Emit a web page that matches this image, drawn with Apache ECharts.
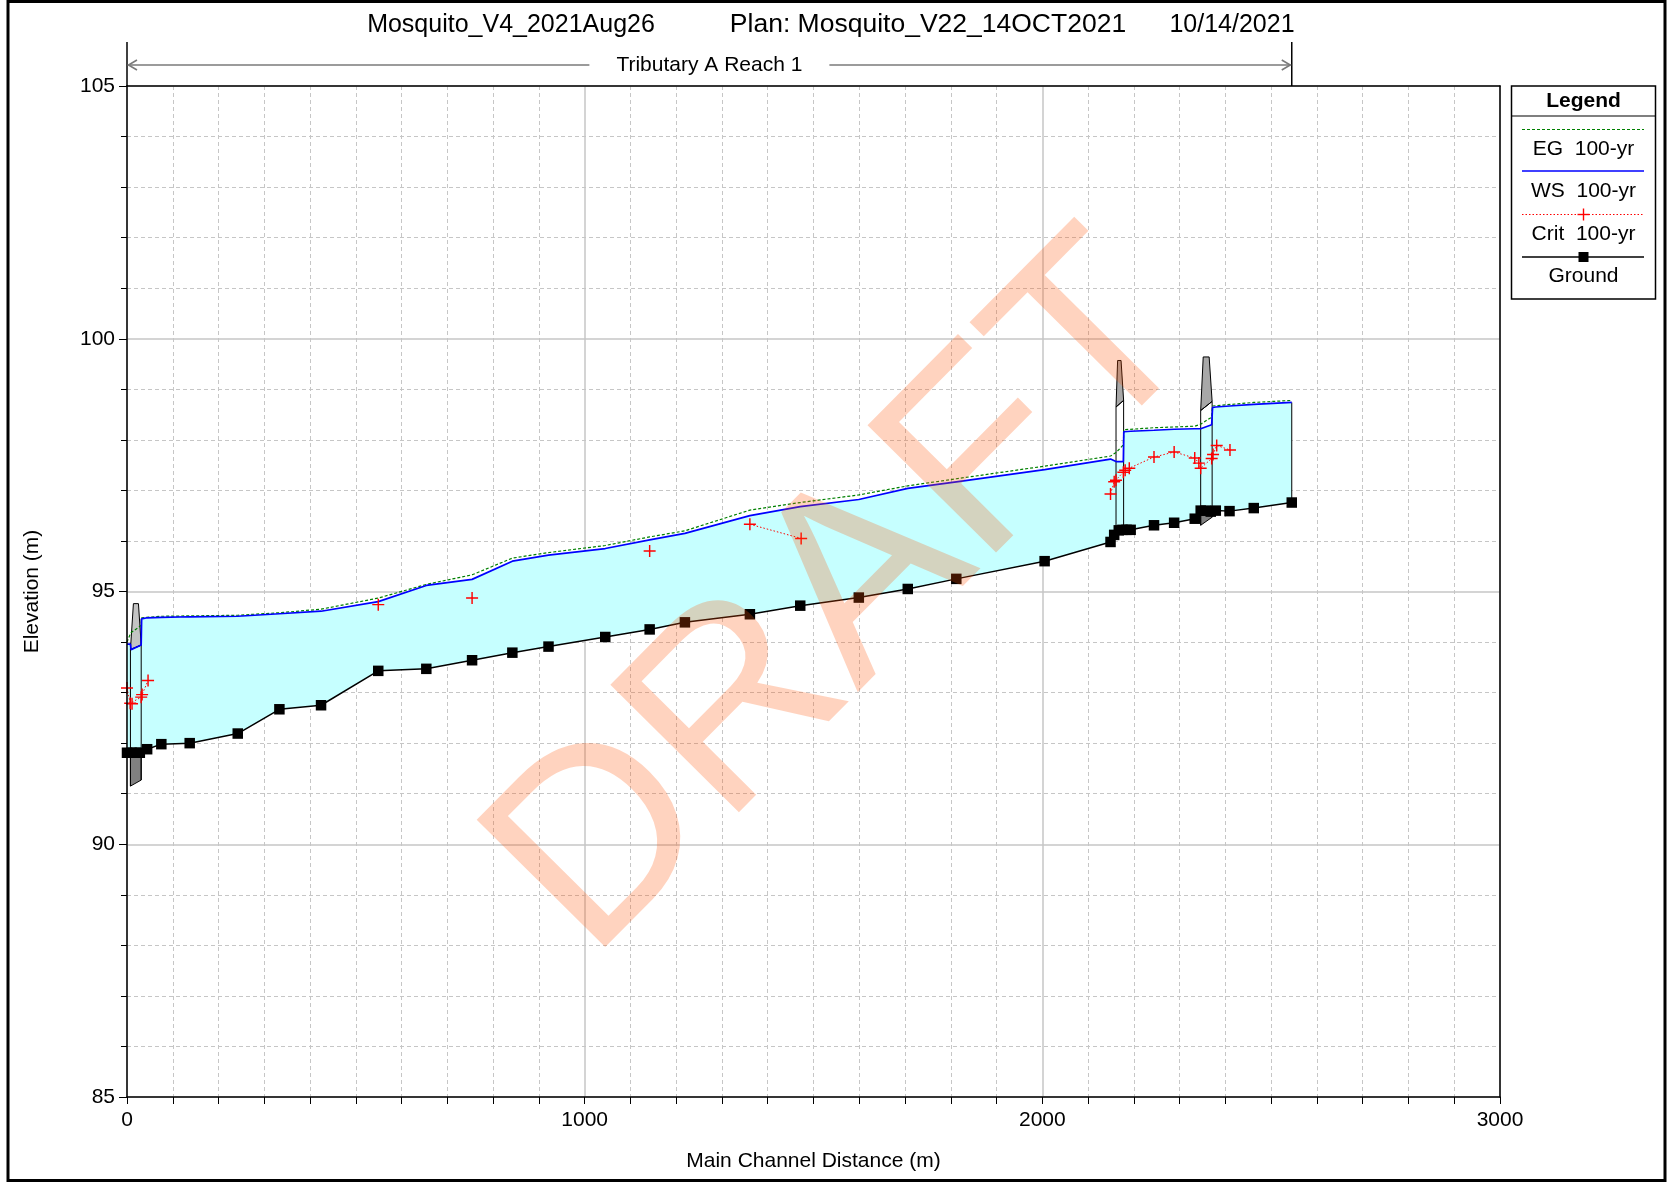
<!DOCTYPE html>
<html>
<head>
<meta charset="utf-8">
<title>Tributary A Reach 1 - Profile</title>
<script src="https://cdn.jsdelivr.net/npm/echarts@6/dist/echarts.min.js"></script>
<style>
  html, body { margin: 0; padding: 0; background: #fff; }
  #chart { width: 1671px; height: 1183px; }
</style>
</head>
<body>
<div id="chart"></div>
<script>
// ---- Profile data (main channel distance in m, elevation in m) ----
const groundDist = [0, 10, 19, 28, 44, 75, 137, 242, 333, 424, 549, 654, 754, 842, 921, 1045, 1142, 1219, 1361, 1471, 1599, 1706, 1812, 2005, 2149, 2157, 2167, 2175, 2184, 2193, 2244, 2288, 2333, 2346, 2357, 2368, 2379, 2409, 2462, 2545];
const groundElev = [91.81, 91.81, 91.81, 91.81, 91.88, 91.98, 92.00, 92.19, 92.67, 92.75, 93.43, 93.47, 93.64, 93.79, 93.91, 94.10, 94.25, 94.39, 94.55, 94.72, 94.88, 95.05, 95.25, 95.60, 95.98, 96.12, 96.21, 96.22, 96.22, 96.22, 96.31, 96.36, 96.44, 96.60, 96.60, 96.58, 96.60, 96.59, 96.65, 96.76];

const wsDist = [0, 7.5, 9, 31, 32, 44, 75, 137, 242, 333, 424, 549, 654, 754, 842, 921, 1045, 1142, 1219, 1361, 1471, 1599, 1706, 1812, 2005, 2149, 2161, 2177, 2178, 2193, 2244, 2288, 2333, 2346, 2370, 2372, 2379, 2409, 2462, 2545];
const wsElev = [93.96, 93.96, 93.85, 93.94, 94.46, 94.48, 94.49, 94.50, 94.51, 94.56, 94.61, 94.80, 95.12, 95.24, 95.60, 95.72, 95.85, 96.02, 96.15, 96.50, 96.68, 96.82, 97.04, 97.17, 97.41, 97.62, 97.57, 97.57, 98.16, 98.17, 98.19, 98.21, 98.22, 98.22, 98.30, 98.64, 98.65, 98.67, 98.70, 98.74];

const egDist = [0, 8, 31, 32, 75, 242, 333, 424, 549, 654, 754, 842, 921, 1045, 1142, 1219, 1361, 1471, 1599, 1706, 1812, 2005, 2149, 2161, 2177, 2178, 2244, 2333, 2346, 2370, 2372, 2462, 2545];
const egElev = [94.00, 94.18, 94.33, 94.48, 94.51, 94.53, 94.58, 94.65, 94.87, 95.14, 95.33, 95.66, 95.77, 95.91, 96.08, 96.20, 96.61, 96.76, 96.91, 97.09, 97.23, 97.48, 97.68, 97.75, 97.90, 98.20, 98.24, 98.27, 98.31, 98.45, 98.67, 98.74, 98.78];

// critical depth elevations; null marks a gap where none was computed
const critDist = [0, 7, 11, 31, 33, 46, null, 549, null, 754, null, 1142, null, 1361, 1473, null, 2149, 2157, 2161, 2177, 2181, 2190, 2244, 2288, 2333, 2342, 2346, 2370, 2373, 2381, 2410];
const critElev = [93.09, 92.79, 92.78, 92.91, 92.96, 93.24, null, 94.74, null, 94.87, null, 95.80, null, 96.33, 96.05, null, 96.93, 97.17, 97.20, 97.36, 97.40, 97.44, 97.66, 97.76, 97.64, 97.54, 97.44, 97.63, 97.71, 97.89, 97.80];

// ---- Bridges (downstream face / upstream face) ----
const bridgeFaceLeft = [7.5, 2161, 2346];
const bridgeFaceRight = [31, 2177.6, 2371];
const bridgeDeckLeft = [14, 2164.5, 2351.5];
const bridgeDeckRight = [25, 2172, 2364.5];
const bridgeDeckTop = [94.76, 99.57, 99.64];
const bridgeLowChordLeft = [93.85, 98.65, 98.58];
const bridgeLowChordRight = [93.94, 98.78, 98.76];
const bridgeFaceTopLeft = [93.98, 98.65, 98.58];
const bridgeFaceTopRight = [94.46, 98.78, 98.76];
const bridgeGroundLeft = [91.81, 96.12, 96.60];
const bridgeGroundRight = [91.81, 96.22, 96.58];
const bridgeFootLeft = [91.15, 96.02, 96.31];
const bridgeFootRight = [91.27, 96.30, 96.47];
const bridgeDeckFill = ['#c4c4c4', '#a8a8a8', '#a8a8a8'];

// ---- Axes / annotation ----
const xRange = [0, 3000];
const yRange = [85, 105];
const reachStart = 0;
const reachEnd = 2545;
const reachName = 'Tributary A Reach 1';
const titleParts = ['Mosquito_V4_2021Aug26', 'Plan: Mosquito_V22_14OCT2021', '10/14/2021'];
const legendLabels = ['EG  100-yr', 'WS  100-yr', 'Crit  100-yr', 'Ground'];

const FONT = '"Liberation Sans", Arial, Helvetica, sans-serif';
const GRID_COLOR = '#c6c6c6';

const pairs = (xs, ys) => xs.map((x, i) => (x == null ? ['-', '-'] : [x, ys[i]]));

const chart = echarts.init(document.getElementById('chart'), null, { renderer: 'canvas' });

const plusPath = 'path://M4.4,0H5.6V4.4H10V5.6H5.6V10H4.4V5.6H0V4.4H4.4Z';

const option = {
  animation: false,
  backgroundColor: '#ffffff',
  grid: { left: 127, top: 86, width: 1373, height: 1011, show: false },
  xAxis: [
    { // labelled distance axis
      type: 'value', min: xRange[0], max: xRange[1], interval: 1000, position: 'bottom', z: 10,
      name: 'Main Channel Distance (m)', nameLocation: 'middle', nameGap: 54,
      nameTextStyle: { fontSize: 21, color: '#000', fontFamily: FONT },
      axisLine: { onZero: false, lineStyle: { color: '#000', width: 1.5 } },
      axisTick: { show: true, length: 7, lineStyle: { color: '#000', width: 1 } },
      minorTick: { show: true, splitNumber: 10, length: 7, lineStyle: { color: '#000', width: 1 } },
      axisLabel: { fontSize: 21, color: '#000', margin: 13, fontFamily: FONT, formatter: v => String(v) },
      splitLine: { show: false }
    },
    { // grid lines only
      type: 'value', min: xRange[0], max: xRange[1], interval: 1000, position: 'bottom', z: 0,
      axisLine: { show: false }, axisTick: { show: false }, axisLabel: { show: false },
      minorTick: { show: false, splitNumber: 10 },
      splitLine: { show: true, lineStyle: { color: GRID_COLOR, width: 1.5 } },
      minorSplitLine: { show: true, lineStyle: { color: GRID_COLOR, width: 1, type: [4, 3] } }
    },
    { // top frame
      type: 'value', min: xRange[0], max: xRange[1], position: 'top', z: 10,
      axisLine: { onZero: false, lineStyle: { color: '#000', width: 1.5 } },
      axisTick: { show: false }, axisLabel: { show: false }, splitLine: { show: false }
    }
  ],
  yAxis: [
    { // labelled elevation axis
      type: 'value', min: yRange[0], max: yRange[1], interval: 5, position: 'left', z: 10,
      name: 'Elevation (m)', nameLocation: 'middle', nameGap: 84, nameRotate: 90,
      nameTextStyle: { fontSize: 21, color: '#000', fontFamily: FONT },
      axisLine: { onZero: false, lineStyle: { color: '#000', width: 1.5 } },
      axisTick: { show: true, length: 8, lineStyle: { color: '#000', width: 1 } },
      minorTick: { show: true, splitNumber: 5, length: 6, lineStyle: { color: '#000', width: 1 } },
      axisLabel: { fontSize: 21, color: '#000', margin: 12, fontFamily: FONT, formatter: v => String(v) },
      splitLine: { show: false }
    },
    { // grid lines only
      type: 'value', min: yRange[0], max: yRange[1], interval: 5, position: 'left', z: 0,
      axisLine: { show: false }, axisTick: { show: false }, axisLabel: { show: false },
      minorTick: { show: false, splitNumber: 5 },
      splitLine: { show: true, lineStyle: { color: GRID_COLOR, width: 1.5 } },
      minorSplitLine: { show: true, lineStyle: { color: GRID_COLOR, width: 1, type: [4, 3] } }
    },
    { // right frame
      type: 'value', min: yRange[0], max: yRange[1], position: 'right', z: 10,
      axisLine: { onZero: false, lineStyle: { color: '#000', width: 1.5 } },
      axisTick: { show: false }, axisLabel: { show: false }, splitLine: { show: false }
    }
  ],
  series: [
    { // flow area between water surface and channel invert
      type: 'custom', name: 'flow', z: 1, silent: true,
      data: [[wsDist[0], wsElev[0]]],
      renderItem: (params, api) => {
        const top = wsDist.map((d, i) => api.coord([d, wsElev[i]]));
        const bottom = groundDist.map((d, i) => api.coord([d, groundElev[i]])).reverse();
        const endTop = api.coord([wsDist[wsDist.length - 1], wsElev[wsElev.length - 1]]);
        const endBot = api.coord([groundDist[groundDist.length - 1], groundElev[groundElev.length - 1]]);
        return {
          type: 'group',
          children: [
            { type: 'polygon', shape: { points: top.concat(bottom) }, style: { fill: '#c6ffff', stroke: null } },
            { type: 'line', shape: { x1: endTop[0], y1: endTop[1], x2: endBot[0], y2: endBot[1] },
              style: { stroke: '#000', lineWidth: 1 } }
          ]
        };
      }
    },
    { // bridge decks and faces
      type: 'custom', name: 'bridges', z: 3, silent: true,
      data: bridgeFaceLeft.map((x, i) => [x, bridgeDeckTop[i]]),
      renderItem: (params, api) => {
        const i = params.dataIndex;
        const c = (x, y) => api.coord([x, y]);
        const L = bridgeFaceLeft[i], R = bridgeFaceRight[i];
        const ln = (a, b) => ({ type: 'line', shape: { x1: a[0], y1: a[1], x2: b[0], y2: b[1] },
                                style: { stroke: '#000', lineWidth: 1 } });
        return {
          type: 'group',
          children: [
            { type: 'polygon',
              shape: { points: [c(L, bridgeGroundLeft[i]), c(R, bridgeGroundRight[i]), c(R, bridgeFootRight[i]), c(L, bridgeFootLeft[i])] },
              style: { fill: '#808080', stroke: '#000', lineWidth: 1 } },
            { type: 'polygon',
              shape: { points: [c(bridgeDeckLeft[i], bridgeDeckTop[i]), c(bridgeDeckRight[i], bridgeDeckTop[i]),
                                c(R, bridgeLowChordRight[i]), c(L, bridgeLowChordLeft[i])] },
              style: { fill: bridgeDeckFill[i], stroke: '#000', lineWidth: 1 } },
            ln(c(L, bridgeFootLeft[i]), c(L, bridgeFaceTopLeft[i])),
            ln(c(R, bridgeFootRight[i]), c(R, bridgeFaceTopRight[i])),
            ln(c(L, bridgeLowChordLeft[i]), c(R, bridgeLowChordRight[i]))
          ]
        };
      }
    },
    {
      type: 'line', name: 'EG  100-yr', z: 4, silent: true,
      data: pairs(egDist, egElev), showSymbol: false,
      lineStyle: { color: '#008000', width: 1.2, type: [3, 2] }
    },
    {
      type: 'line', name: 'WS  100-yr', z: 5, silent: true,
      data: pairs(wsDist, wsElev), showSymbol: false,
      lineStyle: { color: '#0000ff', width: 1.7 }
    },
    {
      type: 'line', name: 'Crit  100-yr', z: 6, silent: true,
      data: pairs(critDist, critElev), connectNulls: false,
      showSymbol: true, showAllSymbol: true, symbol: plusPath, symbolSize: 12,
      itemStyle: { color: '#ff0000' },
      lineStyle: { color: '#ff0000', width: 1, type: [1.5, 2] }
    },
    {
      type: 'line', name: 'Ground', z: 7, silent: true,
      data: pairs(groundDist, groundElev),
      showSymbol: true, showAllSymbol: true, symbol: 'rect', symbolSize: 10.5,
      itemStyle: { color: '#000' },
      lineStyle: { color: '#000', width: 1.5 }
    }
  ]
};

chart.setOption(option);

// ---- Decorations: frame, title, reach marker, legend, watermark ----
const px0 = chart.convertToPixel({ xAxisIndex: 0 }, reachStart);
const px1 = chart.convertToPixel({ xAxisIndex: 0 }, reachEnd);
const plotTop = chart.convertToPixel({ yAxisIndex: 0 }, yRange[1]);
const reachY = 65;
const reachMid = (px0 + px1) / 2;
const reachGap = 120;
const grayArrow = { stroke: '#7a7a7a', lineWidth: 1.6 };

const txt = (x, y, s, size, extra) => ({
  type: 'text', x: x, y: y, silent: true,
  style: Object.assign({ text: s, fill: '#000', font: size + 'px ' + FONT, align: 'center', verticalAlign: 'middle' }, extra || {})
});
const seg = (x1, y1, x2, y2, style) => ({
  type: 'line', silent: true, shape: { x1, y1, x2, y2 }, style: Object.assign({ stroke: '#000', lineWidth: 1 }, style || {})
});

const legX0 = 1511.5, legX1 = 1655.5, legMid = (legX0 + legX1) / 2;
const legLineX0 = 1522, legLineX1 = 1644;

const graphics = [
  // outer frame
  { type: 'rect', silent: true, shape: { x: 8, y: 1.5, width: 1657, height: 1179 }, style: { fill: 'none', stroke: '#000', lineWidth: 3 } },
  // title
  txt(511, 25, titleParts[0], 25),
  txt(928, 25, titleParts[1], 26.5),
  txt(1232, 25, titleParts[2], 25),
  // reach extent marker
  seg(px0, 42, px0, plotTop, { lineWidth: 1.5 }),
  seg(px1, 42, px1, plotTop, { lineWidth: 1.5 }),
  seg(px0 + 1, reachY, reachMid - reachGap, reachY, grayArrow),
  seg(reachMid + reachGap, reachY, px1 - 1, reachY, grayArrow),
  { type: 'polyline', silent: true, shape: { points: [[px0 + 10, reachY - 5], [px0 + 1.5, reachY], [px0 + 10, reachY + 5]] }, style: Object.assign({ fill: 'none' }, grayArrow) },
  { type: 'polyline', silent: true, shape: { points: [[px1 - 10, reachY - 5], [px1 - 1.5, reachY], [px1 - 10, reachY + 5]] }, style: Object.assign({ fill: 'none' }, grayArrow) },
  txt(reachMid, reachY, reachName, 21),
  // legend box
  { type: 'rect', silent: true, shape: { x: legX0, y: 86, width: legX1 - legX0, height: 213 }, style: { fill: '#fff', stroke: '#000', lineWidth: 1.5 } },
  seg(legX0, 116, legX1, 116, { lineWidth: 1.2 }),
  txt(legMid, 101, 'Legend', 21, { font: 'bold 21px ' + FONT }),
  seg(legLineX0, 129.5, legLineX1, 129.5, { stroke: '#008000', lineWidth: 1.2, lineDash: [3, 2] }),
  txt(legMid, 149, legendLabels[0], 21),
  seg(legLineX0, 171, legLineX1, 171, { stroke: '#0000ff', lineWidth: 1.7 }),
  txt(legMid, 191, legendLabels[1], 21),
  seg(legLineX0, 214.5, legLineX1, 214.5, { stroke: '#ff0000', lineWidth: 1, lineDash: [1.5, 2] }),
  seg(legMid - 6, 214.5, legMid + 6, 214.5, { stroke: '#ff0000', lineWidth: 1.4 }),
  seg(legMid, 208.5, legMid, 220.5, { stroke: '#ff0000', lineWidth: 1.4 }),
  txt(legMid, 234, legendLabels[2], 21),
  seg(legLineX0, 257, legLineX1, 257, { stroke: '#000', lineWidth: 1.5 }),
  { type: 'rect', silent: true, shape: { x: legMid - 5, y: 252, width: 10, height: 10 }, style: { fill: '#000' } },
  txt(legMid, 276.5, legendLabels[3], 21),
  // DRAFT watermark
  { type: 'text', silent: true, x: 847, y: 600, rotation: 0.79, z: 100,
    style: { text: 'DRAFT', fill: 'rgba(255,84,8,0.26)', font: '263px ' + FONT, align: 'center', verticalAlign: 'middle' } }
];

chart.setOption({ graphic: { elements: graphics.map(g => Object.assign({ z: 50 }, g)) } });
</script>
</body>
</html>
